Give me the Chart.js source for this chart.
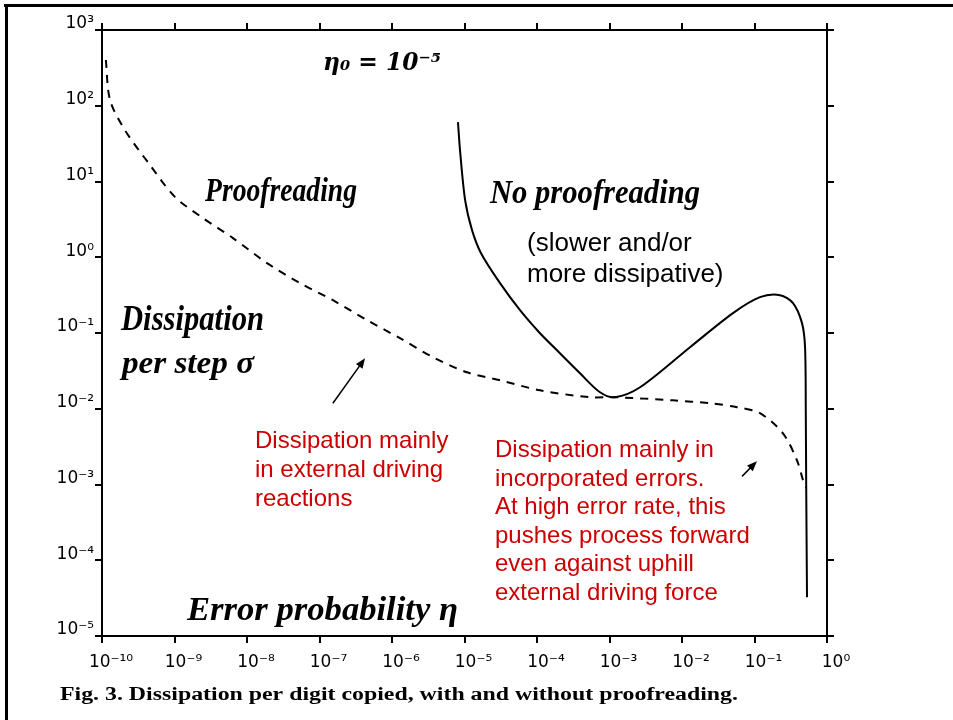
<!DOCTYPE html>
<html lang="en">
<head>
<meta charset="UTF-8" />
<title>Dissipation per digit copied</title>
<script src="https://cdn.jsdelivr.net/npm/chart.js@4.4.1/dist/chart.umd.min.js"></script>
<style>
  body { margin: 0; background: #fff; }
  #wrap { position: relative; width: 953px; height: 720px; }
</style>
</head>
<body>
<div id="wrap"><canvas id="chart"></canvas></div>
<script>
// error probability (x) and dissipation per step (y)
const proofX = [1.13e-10, 1.29e-10, 2.07e-10, 4.59e-10, 1.02e-9, 2.47e-9, 6.41e-9, 1.89e-8, 5.38e-8,
  1.53e-7, 4.52e-7, 1.29e-6, 3.68e-6, 1.08e-5, 3.09e-5, 1.10e-4, 5.38e-4, 1.19e-3, 7.52e-3,
  2.43e-2, 5.74e-2, 0.119, 0.247, 0.385, 0.467, 0.513];
const proofY = [402, 119, 47.7, 16.5, 6.22, 3.29, 1.79, 0.836, 0.455,
  0.271, 0.148, 0.0853, 0.0479, 0.0303, 0.0238, 0.0175, 0.0142, 0.0142, 0.0129,
  0.0118, 0.0105, 0.00873, 0.00474, 0.00209, 0.00114, 0.000918];

const noProofX = [8.13e-6, 8.67e-6, 1.02e-5, 1.27e-5, 1.69e-5, 3.09e-5, 5.83e-5, 1.10e-4, 2.07e-4,
  3.92e-4, 7.40e-4, 1.19e-3, 2.64e-3, 1.29e-2, 5.05e-2, 0.119, 0.225, 0.340, 0.452, 0.498,
  0.510, 0.516, 0.530];
const noProofY = [60.9, 26.0, 5.68, 2.28, 1.13, 0.455, 0.200, 0.0993, 0.0541,
  0.0294, 0.0165, 0.0142, 0.0192, 0.0649, 0.183, 0.297, 0.316, 0.248, 0.135, 0.0649,
  0.00873, 0.00114, 3.24e-5];

const xTickValues = [1e-10, 1e-9, 1e-8, 1e-7, 1e-6, 1e-5, 1e-4, 1e-3, 1e-2, 1e-1, 1];
const xTickLabels = ['10⁻¹⁰', '10⁻⁹', '10⁻⁸', '10⁻⁷', '10⁻⁶', '10⁻⁵', '10⁻⁴', '10⁻³', '10⁻²', '10⁻¹', '10⁰'];
const yTickValues = [1e-5, 1e-4, 1e-3, 1e-2, 1e-1, 1, 10, 100, 1000];
const yTickLabels = ['10⁻⁵', '10⁻⁴', '10⁻³', '10⁻²', '10⁻¹', '10⁰', '10¹', '10²', '10³'];

// arrows: tail x, tail y, tip x, tip y (data units)
const arrowExternal = [1.53e-7, 0.0118, 4.25e-7, 0.0465];
const arrowErrors = [0.0673, 0.00128, 0.108, 0.00203];

const toPoints = (xs, ys) => xs.map((x, i) => ({ x: x, y: ys[i] }));

function fitText(ctx, text, x, y, width) {
  const w = ctx.measureText(text).width;
  ctx.save();
  ctx.translate(x, y);
  ctx.scale(width / w, 1);
  ctx.fillText(text, 0, 0);
  ctx.restore();
}

function drawArrow(ctx, chart, a) {
  const sx = chart.scales.x, sy = chart.scales.y;
  const x1 = sx.getPixelForValue(a[0]), y1 = sy.getPixelForValue(a[1]);
  const x2 = sx.getPixelForValue(a[2]), y2 = sy.getPixelForValue(a[3]);
  const ang = Math.atan2(y2 - y1, x2 - x1);
  ctx.strokeStyle = '#000';
  ctx.fillStyle = '#000';
  ctx.lineWidth = 1.5;
  ctx.beginPath();
  ctx.moveTo(x1, y1);
  ctx.lineTo(x2 - 6 * Math.cos(ang), y2 - 6 * Math.sin(ang));
  ctx.stroke();
  ctx.beginPath();
  ctx.moveTo(x2, y2);
  ctx.lineTo(x2 - 10 * Math.cos(ang) + 4 * Math.sin(ang), y2 - 10 * Math.sin(ang) - 4 * Math.cos(ang));
  ctx.lineTo(x2 - 10 * Math.cos(ang) - 4 * Math.sin(ang), y2 - 10 * Math.sin(ang) + 4 * Math.cos(ang));
  ctx.closePath();
  ctx.fill();
}

const frame = {
  id: 'frame',
  beforeDraw(chart) {
    const ctx = chart.ctx;
    ctx.save();
    ctx.fillStyle = '#fff';
    ctx.fillRect(0, 0, chart.width, chart.height);
    ctx.fillStyle = '#000';
    ctx.fillRect(4, 4, chart.width - 4, 3);
    ctx.fillRect(5, 4, 3, chart.height - 4);
    ctx.restore();
  }
};

const notes = {
  id: 'notes',
  afterDraw(chart) {
    const ctx = chart.ctx;
    ctx.save();
    ctx.textBaseline = 'alphabetic';
    ctx.textAlign = 'left';

    // handwritten labels
    ctx.fillStyle = '#000';
    ctx.font = 'italic bold 34px "Liberation Serif"';
    fitText(ctx, 'Proofreading', 205, 201, 152);
    fitText(ctx, 'No proofreading', 490, 203, 210);
    ctx.font = 'italic bold 35px "Liberation Serif"';
    fitText(ctx, 'Dissipation', 121, 330, 143);
    ctx.font = 'italic bold 31px "Liberation Serif"';
    fitText(ctx, 'per step σ', 122, 373, 132);
    ctx.font = 'italic bold 34px "Liberation Serif"';
    fitText(ctx, 'Error probability η', 187, 620, 271);
    ctx.font = 'italic bold 24px "DejaVu Serif"';
    fitText(ctx, 'η₀ = 10⁻⁵', 323, 70, 118);

    ctx.font = '26px "Liberation Sans"';
    ctx.fillText('(slower and/or', 527, 251);
    ctx.fillText('more dissipative)', 527, 282);

    ctx.fillStyle = '#cc0000';
    ctx.font = '24px "Liberation Sans"';
    ['Dissipation mainly', 'in external driving', 'reactions']
      .forEach((t, i) => ctx.fillText(t, 255, 448 + i * 29));
    ['Dissipation mainly in', 'incorporated errors.', 'At high error rate, this',
     'pushes process forward', 'even against uphill', 'external driving force']
      .forEach((t, i) => ctx.fillText(t, 495, 457 + i * 28.5));

    drawArrow(ctx, chart, arrowExternal);
    drawArrow(ctx, chart, arrowErrors);

    ctx.fillStyle = '#000';
    ctx.font = 'bold 18px "Liberation Serif"';
    fitText(ctx, 'Fig. 3. Dissipation per digit copied, with and without proofreading.', 60, 700, 678);
    ctx.restore();
  }
};

const decadesX = scale => { scale.ticks = xTickValues.map(v => ({ value: v })); };
const decadesY = scale => { scale.ticks = yTickValues.map(v => ({ value: v })); };
const axisGrid = { drawOnChartArea: false, drawTicks: true, tickLength: 7, color: '#000', lineWidth: 2 };
const axisBorder = { color: '#000', width: 2 };
const tickFont = { family: '"DejaVu Sans"', size: 17 };

new Chart(document.getElementById('chart'), {
  type: 'scatter',
  data: {
    datasets: [{
      label: 'Proofreading',
      data: toPoints(proofX, proofY),
      showLine: true,
      borderColor: '#000',
      borderWidth: 2,
      borderDash: [8, 7],
      pointRadius: 0,
      tension: 0.3
    }, {
      label: 'No proofreading',
      data: toPoints(noProofX, noProofY),
      showLine: true,
      borderColor: '#000',
      borderWidth: 2,
      pointRadius: 0,
      tension: 0.3
    }]
  },
  options: {
    responsive: true,
    maintainAspectRatio: false,
    animation: false,
    layout: { padding: 0 },
    plugins: { legend: { display: false }, tooltip: { enabled: false } },
    scales: {
      x: {
        type: 'logarithmic', position: 'bottom', min: 1e-10, max: 1,
        afterBuildTicks: decadesX,
        afterFit: s => { s.height = 84; },
        grid: axisGrid, border: axisBorder,
        ticks: { color: '#000', font: tickFont, padding: 9, labelOffset: 9, maxRotation: 0, autoSkip: false,
          callback: (v, i) => xTickLabels[i] }
      },
      x2: {
        type: 'logarithmic', position: 'top', min: 1e-10, max: 1,
        afterBuildTicks: decadesX,
        afterFit: s => { s.height = 30; },
        grid: axisGrid, border: axisBorder,
        ticks: { display: false }
      },
      y: {
        type: 'logarithmic', position: 'left', min: 1e-5, max: 1000,
        afterBuildTicks: decadesY,
        afterFit: s => { s.width = 102; },
        grid: axisGrid, border: axisBorder,
        ticks: { color: '#000', font: tickFont, padding: 1, labelOffset: -6, autoSkip: false,
          callback: (v, i) => yTickLabels[i] }
      },
      y2: {
        type: 'logarithmic', position: 'right', min: 1e-5, max: 1000,
        afterBuildTicks: decadesY,
        afterFit: s => { s.width = 126; },
        grid: axisGrid, border: axisBorder,
        ticks: { display: false }
      }
    }
  },
  plugins: [frame, notes]
});
</script>
</body>
</html>
